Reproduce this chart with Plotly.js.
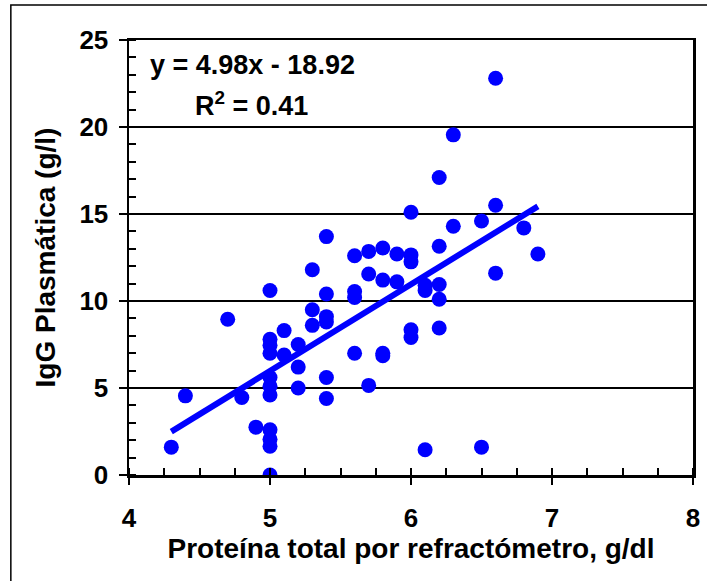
<!DOCTYPE html>
<html>
<head>
<meta charset="utf-8">
<script src="https://cdn.plot.ly/plotly-3.0.1.min.js"></script>
<style>html,body{margin:0;padding:0;background:#fff;}#chart{width:707px;height:581px;}</style>
</head>
<body>
<div id="chart"></div>
<script>
// Total protein by refractometer (g/dl)
const proteinX = [4.3, 4.4, 4.7, 4.8, 4.9,
  5.0, 5.0, 5.0, 5.0, 5.0, 5.0, 5.0, 5.0, 5.0, 5.0, 5.0,
  5.1, 5.1,
  5.2, 5.2, 5.2,
  5.3, 5.3, 5.3,
  5.4, 5.4, 5.4, 5.4, 5.4, 5.4,
  5.6, 5.6, 5.6, 5.6,
  5.7, 5.7, 5.7,
  5.8, 5.8, 5.8, 5.8,
  5.9, 5.9,
  6.0, 6.0, 6.0, 6.0, 6.0,
  6.1, 6.1, 6.1,
  6.2, 6.2, 6.2, 6.2, 6.2,
  6.3, 6.3,
  6.5, 6.5,
  6.6, 6.6, 6.6,
  6.8, 6.9];
// Plasma IgG (g/l)
const iggY = [1.6, 4.55, 8.95, 4.45, 2.75,
  10.6, 7.8, 7.45, 7.0, 5.6, 5.1, 4.6, 2.6, 2.05, 1.65, 0,
  8.3, 6.9,
  7.5, 6.2, 5.0,
  11.8, 9.5, 8.6,
  13.7, 10.4, 9.1, 8.8, 5.6, 4.4,
  12.6, 10.55, 10.2, 7.0,
  12.85, 11.55, 5.15,
  13.05, 11.2, 7.0, 6.85,
  12.7, 11.1,
  15.1, 12.65, 12.25, 8.35, 7.9,
  10.9, 10.6, 1.45,
  17.1, 13.15, 10.95, 10.1, 8.45,
  19.55, 14.3,
  14.6, 1.6,
  22.8, 15.5, 11.6,
  14.2, 12.7];
// Trend line endpoints (y = 4.98x - 18.92)
const trendX = [4.3, 6.9];
const trendY = [2.49, 15.44];
const equationText = "y = 4.98x - 18.92";
const r2Text = "R<sup>2</sup> = 0.41";
const xTickVals = [4, 5, 6, 7, 8];
const yTickVals = [0, 5, 10, 15, 20, 25];

const font = "Liberation Sans, Arial, sans-serif";

const traces = [
  {x: proteinX, y: iggY, type: 'scatter', mode: 'markers',
   marker: {color: '#0000FF', size: 15, line: {width: 0}}, hoverinfo: 'skip'},
  {x: trendX, y: trendY, type: 'scatter', mode: 'lines', xaxis: 'x2',
   line: {color: '#0000FF', width: 6}, hoverinfo: 'skip'}
];

const layout = {
  width: 707, height: 581,
  margin: {l: 129, r: 14, t: 40, b: 106},
  paper_bgcolor: '#ffffff', plot_bgcolor: '#ffffff',
  showlegend: false,
  font: {family: font, color: '#000', size: 24},
  xaxis: {
    range: [4, 8], tickvals: xTickVals, ticktext: xTickVals.map(String),
    ticks: 'outside', ticklen: 7, tickwidth: 2, tickcolor: '#000',
    minor: {dtick: 0.25, ticks: 'inside', ticklen: 7, tickwidth: 2, tickcolor: '#000', showgrid: false},
    showgrid: false, zeroline: false,
    showline: true, linecolor: '#000', linewidth: 2.5, mirror: true,
    tickfont: {family: font, size: 26, color: '#000', weight: 'bold'},
    ticklabelstandoff: 11,
    title: {text: '<b>Proteína total por refractómetro, g/dl</b>', font: {family: font, size: 28, color: '#000'}, standoff: 4},
    automargin: false, fixedrange: true
  },
  xaxis2: {
    overlaying: 'x', anchor: 'y', side: 'bottom', range: [4, 8],
    tickvals: xTickVals, ticks: 'inside', ticklen: 7, tickwidth: 2, tickcolor: '#000',
    showticklabels: false, showgrid: false, zeroline: false, showline: false,
    automargin: false, fixedrange: true
  },
  yaxis: {
    range: [0, 25], tickvals: yTickVals, ticktext: yTickVals.map(String),
    ticks: 'outside', ticklen: 8, tickwidth: 2, tickcolor: '#000',
    minor: {dtick: 1, ticks: 'inside', ticklen: 7, tickwidth: 2, tickcolor: '#000', showgrid: false},
    showgrid: true, gridcolor: '#000', gridwidth: 2, zeroline: false,
    showline: true, linecolor: '#000', linewidth: 2.5, mirror: true,
    tickfont: {family: font, size: 26, color: '#000', weight: 'bold'},
    ticklabelstandoff: 5,
    title: {text: '<b>IgG Plasmática (g/l)</b>', font: {family: font, size: 28, color: '#000'}, standoff: 16},
    automargin: false, fixedrange: true
  },
  annotations: [
    {xref: 'paper', yref: 'paper', x: 0.033, y: 0.9425, xanchor: 'left', yanchor: 'middle',
     text: '<b>' + equationText + '</b>', showarrow: false, font: {family: font, size: 27, color: '#000'}},
    {xref: 'paper', yref: 'paper', x: 0.113, y: 0.853, xanchor: 'left', yanchor: 'middle',
     text: '<b>' + r2Text + '</b>', showarrow: false, font: {family: font, size: 27, color: '#000'}}
  ],
  shapes: [
    {type: 'path', xref: 'paper', yref: 'paper',
     path: 'M -0.2095 -0.3 L -0.2095 1.0805 L 1.1 1.0805',
     line: {color: '#000', width: 1.5}}
  ]
};

Plotly.newPlot('chart', traces, layout, {staticPlot: true, displayModeBar: false});
</script>
</body>
</html>
